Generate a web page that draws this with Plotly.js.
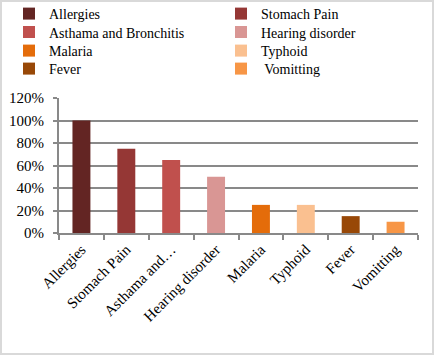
<!DOCTYPE html>
<html><head><meta charset="utf-8">
<script src="https://cdn.plot.ly/plotly-3.0.1.min.js"></script>
<style>body{margin:0;background:#fff}#plot{width:434px;height:355px}
#frame{position:absolute;left:0;top:0;width:434px;height:355px;box-sizing:border-box;border:2px solid #d9d9d9;pointer-events:none}</style>
</head><body><div id="plot"></div><div id="frame"></div>
<script>
const categories = ["Allergies","Stomach Pain","Asthama and Bronchitis","Hearing disorder","Malaria","Typhoid","Fever","Vomitting"];
const tickLabels = ["Allergies","Stomach Pain","Asthama and…","Hearing disorder","Malaria","Typhoid","Fever","Vomitting"];
const legendNames = ["Allergies","Stomach Pain","Asthama and Bronchitis","Hearing disorder","Malaria","Typhoid","Fever"," Vomitting"];
const values = [1.00, 0.75, 0.65, 0.50, 0.25, 0.25, 0.15, 0.10];
const colors = ["#632523","#953735","#C0504D","#D99694","#E46C0A","#FAC090","#984807","#F79646"];

const fam = 'Liberation Serif';
const legendIds = categories.map((c,i)=> i===0 ? 'legend' : 'legend'+(i+1));
const traces = categories.map((c,i)=>({
  type:'bar', x:[c], y:[values[i]], name:legendNames[i], legend:legendIds[i],
  marker:{color:colors[i]}, width:0.4, hoverinfo:'skip'
}));
const W = 434, H = 355;
const colText = [49, 261];
const rowMid = [14, 32.5, 51, 69];
const layout = {
  width:W, height:H,
  margin:{l:59, r:16, t:98, b:122, autoexpand:false},
  barmode:'overlay',
  font:{family:fam, size:15, color:'#000'},
  paper_bgcolor:'#fff', plot_bgcolor:'#fff',
  showlegend:true,
  xaxis:{type:'category', categoryorder:'array', categoryarray:categories, tickvals:categories, ticktext:tickLabels,
    tickangle:-45, ticks:'outside', tickson:'boundaries', ticklen:5, tickcolor:'#898989', tickwidth:2,
    tickfont:{family:fam, size:15, color:'#000'},
    showline:true, linecolor:'#898989', linewidth:2, showgrid:false, zeroline:false, fixedrange:true},
  yaxis:{range:[0,1.2], dtick:0.2, tickformat:'.0%', ticks:'outside', ticklen:4, tickcolor:'#898989', tickwidth:2,
    tickfont:{family:fam, size:15, color:'#000'}, ticklabelstandoff:6,
    showline:true, linecolor:'#898989', linewidth:2, showgrid:true, gridcolor:'#898989', gridwidth:2, zeroline:false, fixedrange:true}
};
legendIds.forEach((id,i)=>{
  const col = i % 2, row = Math.floor(i/2);
  layout[id] = {xref:'container', yref:'container', x:(colText[col]-40)/W, y:1 - rowMid[row]/H,
    xanchor:'left', yanchor:'middle', bgcolor:'rgba(0,0,0,0)', font:{family:fam, size:14, color:'#000'}, itemwidth:30};
});
Plotly.newPlot('plot', traces, layout, {staticPlot:true});
</script></body></html>
